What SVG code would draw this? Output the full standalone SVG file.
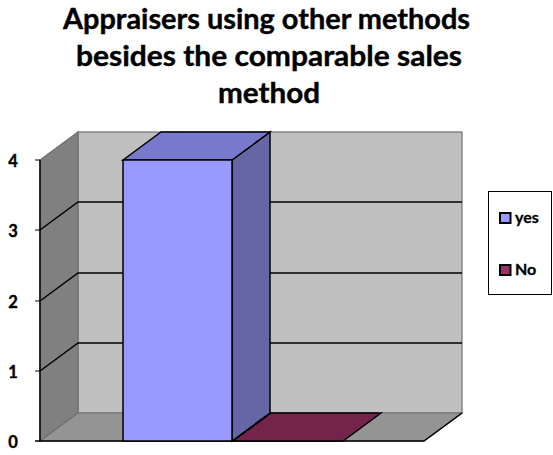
<svg xmlns="http://www.w3.org/2000/svg" width="553" height="455" viewBox="0 0 553 455">
  <style>
    .title { font-family: Lato, "Open Sans", "Liberation Sans", sans-serif; font-weight: bold; font-size: 28px; fill: #000; text-anchor: middle; }
    .axis { font-family: Lato, "Liberation Sans", sans-serif; font-weight: bold; font-size: 16.5px; fill: #000; text-anchor: middle; stroke: #000; stroke-width: 0.4; }
    .leg { font-family: Lato, "Liberation Sans", sans-serif; font-weight: bold; font-size: 16px; fill: #000; stroke: #000; stroke-width: 0.3; }
    .grid { stroke: #000; stroke-width: 1.5; fill: none; }
    .edge { stroke: #707070; stroke-width: 1.2; }
    .outline { stroke: #000; stroke-width: 1.5; stroke-linejoin: miter; }
  </style>
  <rect width="553" height="455" fill="#fff"/>

  <!-- chart title -->
  <g id="title" stroke="#000" stroke-width="0.4">
    <text class="title" x="266.5" y="29" textLength="407" lengthAdjust="spacingAndGlyphs">Appraisers using other methods</text>
    <text class="title" x="269" y="66" textLength="386" lengthAdjust="spacingAndGlyphs">besides the comparable sales</text>
    <text class="title" x="269" y="103" textLength="102" lengthAdjust="spacingAndGlyphs">method</text>
  </g>

  <!-- walls and floor -->
  <g id="walls">
    <rect x="78" y="132" width="384" height="281" fill="#C0C0C0" class="edge"/>
    <polygon points="40,160 78,132 78,413 40,441" fill="#808080" class="edge"/>
    <polygon points="40,441 78,413 462,413 424,441" fill="#949494" class="edge"/>
  </g>

  <!-- gridlines -->
  <g id="gridlines">
    <polyline class="grid" points="40,371 78,343 462,343"/>
    <polyline class="grid" points="40,301 78,273 462,273"/>
    <polyline class="grid" points="40,230 78,202 462,202"/>
  </g>

  <!-- value axis -->
  <g id="axis">
    <line x1="40" y1="160" x2="40" y2="441" stroke="#000" stroke-width="1.5"/>
    <polyline points="35,441 424,441 462,413" fill="none" stroke="#000" stroke-width="1.5"/>
    <g stroke="#000" stroke-width="1">
      <line x1="35" y1="160" x2="40" y2="160"/>
      <line x1="35" y1="230" x2="40" y2="230"/>
      <line x1="35" y1="301" x2="40" y2="301"/>
      <line x1="35" y1="371" x2="40" y2="371"/>
    </g>
    <text class="axis" x="13" y="167">4</text>
    <text class="axis" x="13" y="237">3</text>
    <text class="axis" x="13" y="308">2</text>
    <text class="axis" x="13" y="378">1</text>
    <text class="axis" x="13" y="448">0</text>
  </g>

  <!-- series "No" (value 0) -->
  <g id="bar-no">
    <polygon class="outline" points="233,441 343,441 381,413 271,413" fill="#74244A"/>
  </g>

  <!-- series "yes" (value 4) -->
  <g id="bar-yes">
    <polygon class="outline" points="232,160 270,132 270,413 232,441" fill="#6666A6"/>
    <polygon class="outline" points="123,160 161,132 270,132 232,160" fill="#7878CC"/>
    <rect class="outline" x="123" y="160" width="109" height="281" fill="#9999FF"/>
  </g>

  <!-- legend -->
  <g id="legend">
    <rect x="488.5" y="191.5" width="63" height="103" fill="#fff" stroke="#000" stroke-width="1"/>
    <rect x="500" y="213" width="10.5" height="10" fill="#9999FF" stroke="#000" stroke-width="2"/>
    <text class="leg" x="515" y="222.5">yes</text>
    <rect x="500" y="265" width="10.5" height="10" fill="#993366" stroke="#000" stroke-width="2"/>
    <text class="leg" x="515" y="275">No</text>
  </g>
</svg>
